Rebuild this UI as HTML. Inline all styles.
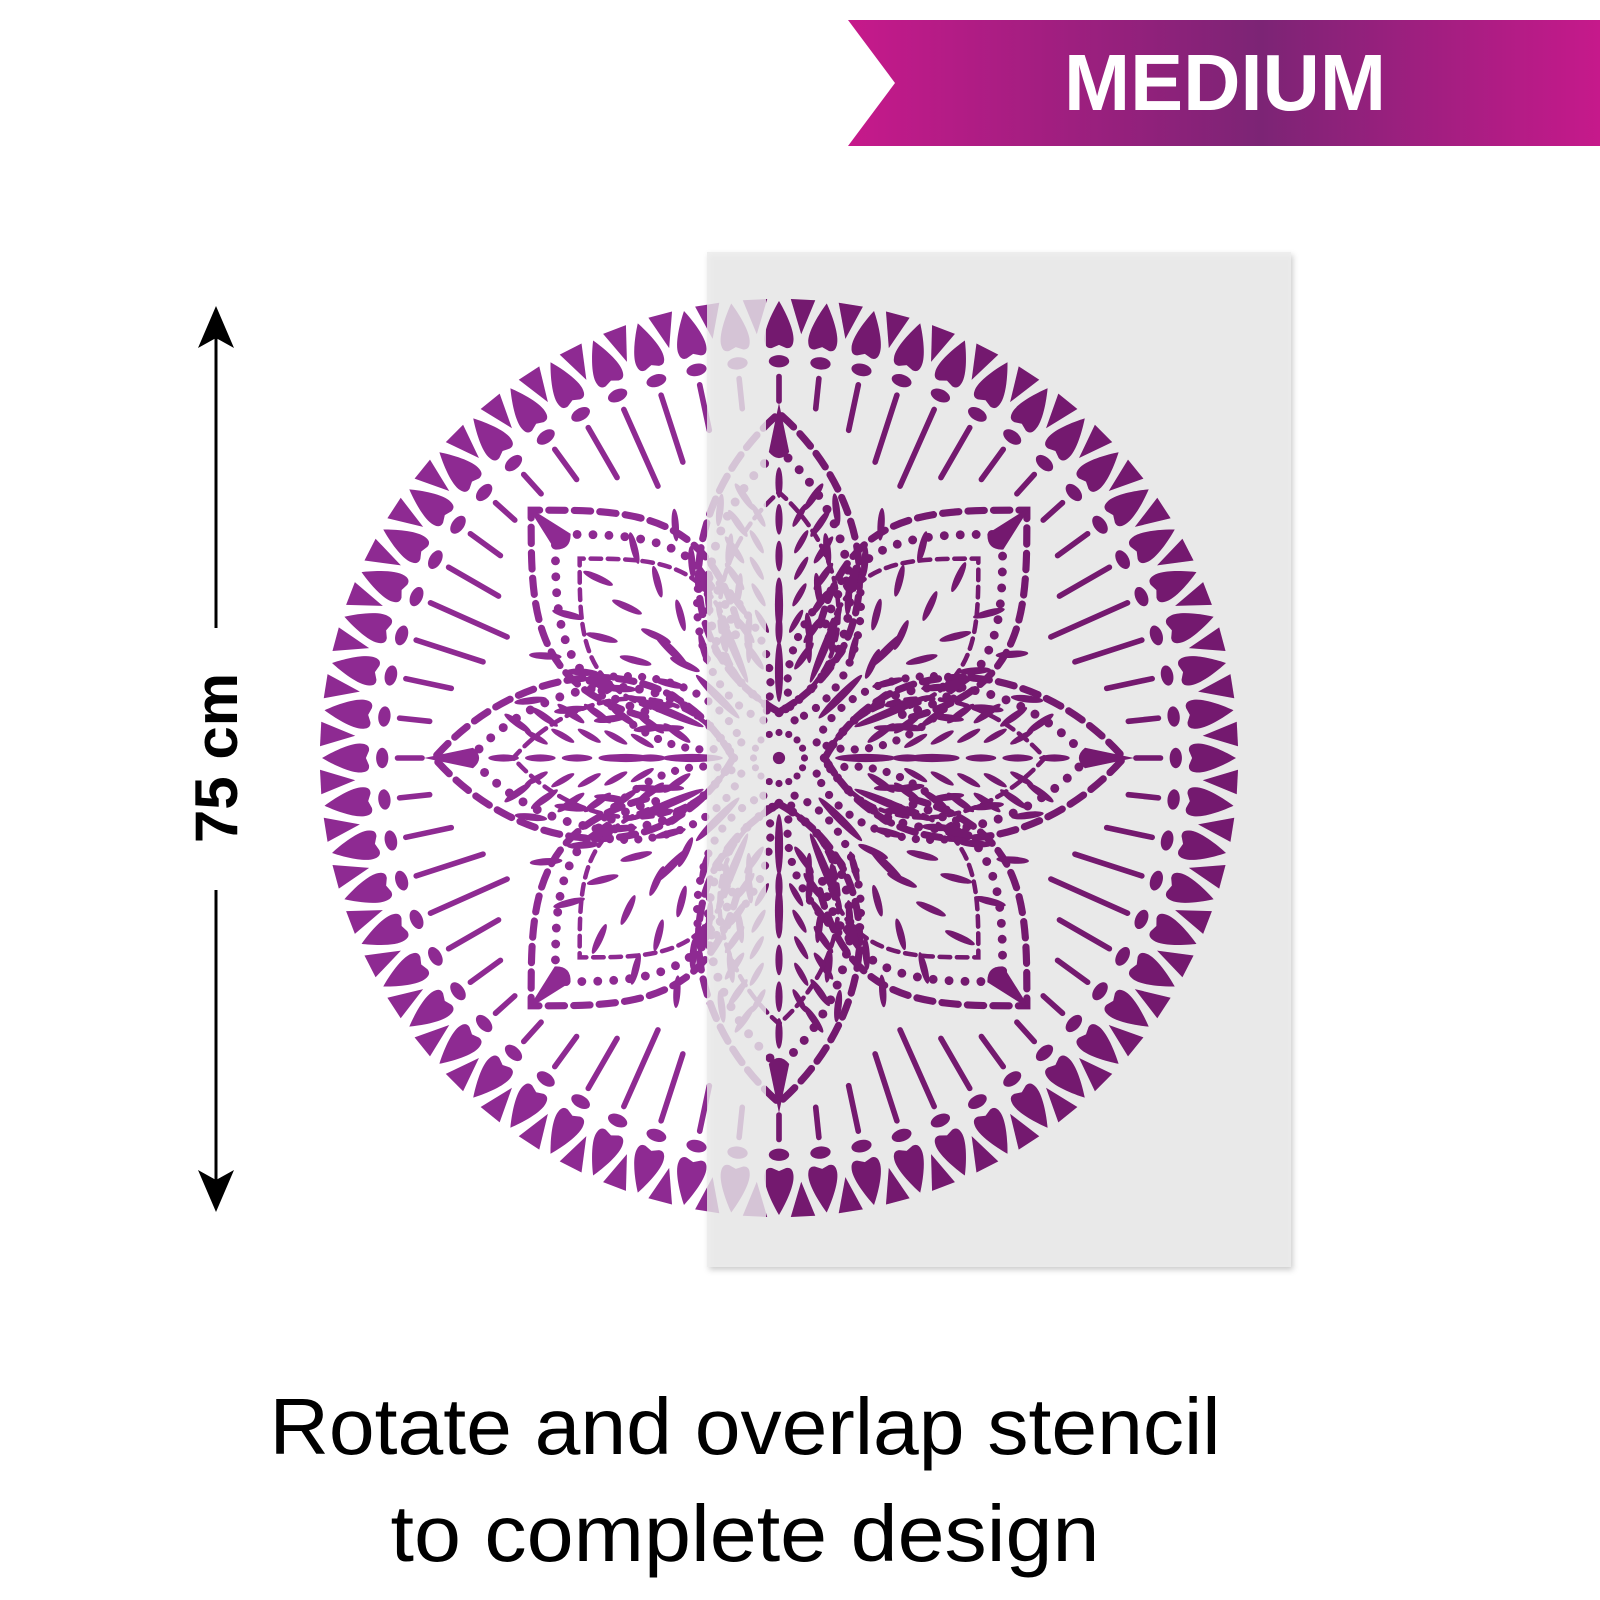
<!DOCTYPE html>
<html><head><meta charset="utf-8"><style>
html,body{margin:0;padding:0;background:#fff;}
svg{display:block;}
</style></head><body>
<svg id="s" xmlns="http://www.w3.org/2000/svg" width="1600" height="1600" viewBox="0 0 1600 1600">
<defs>
<linearGradient id="bg" x1="0" x2="1" y1="0" y2="0">
<stop offset="0" stop-color="#c6198b"/><stop offset="0.55" stop-color="#7c2475"/><stop offset="1" stop-color="#c6198b"/>
</linearGradient>
<clipPath id="rc"><rect x="766" y="0" width="600" height="1600"/></clipPath>
<filter id="sh" x="-5%" y="-5%" width="110%" height="110%"><feDropShadow dx="2" dy="3" stdDeviation="3" flood-color="#000" flood-opacity="0.25"/></filter>
</defs>
<rect width="1600" height="1600" fill="#fff"/>
<path d="M848 20 L1600 20 L1600 146 L848 146 L895 83 Z" fill="url(#bg)"/>
<text x="1225" y="110" text-anchor="middle" font-family="Liberation Sans, sans-serif" font-weight="bold" font-size="80" fill="#fff" textLength="322" lengthAdjust="spacingAndGlyphs">MEDIUM</text>
<g id="mand" transform="translate(779,758) scale(1.02)" fill="#8e2a92" stroke="none"></g>
<rect x="707" y="252" width="584" height="1015" fill="#ebebeb" fill-opacity="0.78" filter="url(#sh)"/>
<g id="mand2wrap" clip-path="url(#rc)"></g>
<line x1="216" y1="330" x2="216" y2="628" stroke="#000" stroke-width="3"/>
<line x1="216" y1="890" x2="216" y2="1190" stroke="#000" stroke-width="3"/>
<path d="M216 306 L234 348 L216 338 L198 348 Z" fill="#000"/>
<path d="M216 1212 L234 1170 L216 1180 L198 1170 Z" fill="#000"/>
<text transform="translate(237,758) rotate(-90)" text-anchor="middle" font-family="Liberation Sans, sans-serif" font-weight="bold" font-size="60" fill="#000">75 cm</text>
<text x="745" y="1454" text-anchor="middle" font-family="Liberation Sans, sans-serif" font-size="80" fill="#000" textLength="951" lengthAdjust="spacingAndGlyphs">Rotate and overlap stencil</text>
<text x="745" y="1561" text-anchor="middle" font-family="Liberation Sans, sans-serif" font-size="80" fill="#000" textLength="709" lengthAdjust="spacingAndGlyphs">to complete design</text>
</svg>
<script>
var NS="http://www.w3.org/2000/svg";
function el(t,a,p){var e=document.createElementNS(NS,t);for(var k in a)e.setAttribute(k,a[k]);p.appendChild(e);return e;}
function leaf(p,x,y,rx,ry,a,col){el('ellipse',{cx:x,cy:y,rx:rx,ry:ry,fill:col,transform:'rotate('+a+' '+x+' '+y+')'},p);}
function build(g,col){
  var N=60;
  for(var i=0;i<N;i++){
    var th=i*360/N-90;
    var r=el('g',{transform:'rotate('+th+')'},g);
    el('path',{d:'M448 0 C438 -6 418 -16 408 -14 Q401 -13 402 -7 L405 0 L402 7 Q401 13 408 14 C418 16 438 6 448 0Z',fill:col},r);
    el('ellipse',{cx:389,cy:0,rx:6,ry:10,fill:col},r);
    var rad=th*Math.PI/180;
    var rin=285+65*Math.abs(Math.cos(4*rad));
    el('line',{x1:rin,y1:0,x2:374,y2:0,stroke:col,'stroke-width':5.5,'stroke-linecap':'round'},r);
    var r2=el('g',{transform:'rotate('+(th+180/N)+')'},g);
    el('path',{d:'M416 0 L450 -12 L450 12Z',fill:col},r2);
  }
  var A='M45 0 C110 -115 255 -95 338 0 C255 95 110 115 45 0';
  for(var k=0;k<4;k++){
    var p=el('g',{transform:'rotate('+(k*90)+')'},g);
    el('path',{d:A,fill:'none',stroke:col,'stroke-width':7,'stroke-dasharray':'16 9','stroke-linecap':'round'},p);
    el('path',{d:A,transform:'translate(40 0) scale(0.88) translate(-40 0)',fill:'none',stroke:col,'stroke-width':10,'stroke-dasharray':'0 18','stroke-linecap':'round'},p);
    el('path',{d:A,transform:'translate(40 0) scale(0.74) translate(-40 0)',fill:'none',stroke:col,'stroke-width':6,'stroke-dasharray':'14 9','stroke-linecap':'round'},p);
    el('path',{d:'M348 0 L300 -10 Q288 0 300 10Z',fill:col},p);
    for(var x=90;x<=270;x+=36){el('ellipse',{cx:x,cy:0,rx:15,ry:3.5,fill:col},p);}
    for(var x=100;x<=260;x+=26){
      var w=Math.sin((x-45)/293*Math.PI)*44;
      leaf(p,x,-w,16,3.5,-35,col);leaf(p,x,w,16,3.5,35,col);
      if(x>120&&x<240){leaf(p,x+8,-w*0.5,13,3,-30,col);leaf(p,x+8,w*0.5,13,3,30,col);}
    }
  }
  var D='M-40 -130 C-70 -245 -150 -243 -243 -243 C-243 -150 -245 -70 -130 -40';
  for(var k=0;k<4;k++){
    var p=el('g',{transform:'rotate('+(k*90)+')'},g);
    el('path',{d:D,fill:'none',stroke:col,'stroke-width':7,'stroke-dasharray':'16 9','stroke-linecap':'round'},p);
    el('path',{d:D,transform:'translate(-60 -60) scale(0.87) translate(60 60)',fill:'none',stroke:col,'stroke-width':10,'stroke-dasharray':'0 18','stroke-linecap':'round'},p);
    el('path',{d:D,transform:'translate(-60 -60) scale(0.74) translate(60 60)',fill:'none',stroke:col,'stroke-width':6,'stroke-dasharray':'14 9','stroke-linecap':'round'},p);
    var q=el('g',{transform:'rotate(225)'},p);
    el('path',{d:'M348 0 L300 -11 Q288 0 300 11Z',fill:col},q);
    for(var a=-32;a<=32;a+=10.6){
      var qq=el('g',{transform:'rotate('+a+')'},q);
      for(var x=130;x<=270;x+=40){leaf(qq,x,0,16,3.5,(a>0?20:-20),col);}
    }
  }
  for(var k=0;k<8;k++){
    var p=el('g',{transform:'rotate('+(k*45+22.5)+')'},g);
    var B='M40 0 C80 -40 150 -35 200 0 C150 35 80 40 40 0';
    el('path',{d:B,fill:'none',stroke:col,'stroke-width':8,'stroke-dasharray':'0 14','stroke-linecap':'round'},p);
    el('ellipse',{cx:120,cy:0,rx:40,ry:4,fill:col},p);
    leaf(p,110,-14,14,3,-25,col);leaf(p,110,14,14,3,25,col);
    el('path',{d:'M210 0 L180 -7 Q172 0 180 7Z',fill:col},p);
    var p2=el('g',{transform:'rotate('+(k*45)+')'},g);
    el('ellipse',{cx:85,cy:0,rx:30,ry:4,fill:col},p2);
    el('ellipse',{cx:150,cy:0,rx:25,ry:4,fill:col},p2);
  }
  for(var j=0;j<16;j++){
    var a=j*22.5*Math.PI/180;
    el('circle',{cx:25*Math.cos(a),cy:25*Math.sin(a),r:3.5,fill:col},g);
  }
  el('circle',{cx:0,cy:0,r:6,fill:col},g);
}
build(document.getElementById('mand'),'#8e2a92');
var w=document.getElementById('mand2wrap');
var g2=el('g',{transform:'translate(779,758) scale(1.02)'},w);
build(g2,'#74196f');
</script>
</body></html>
